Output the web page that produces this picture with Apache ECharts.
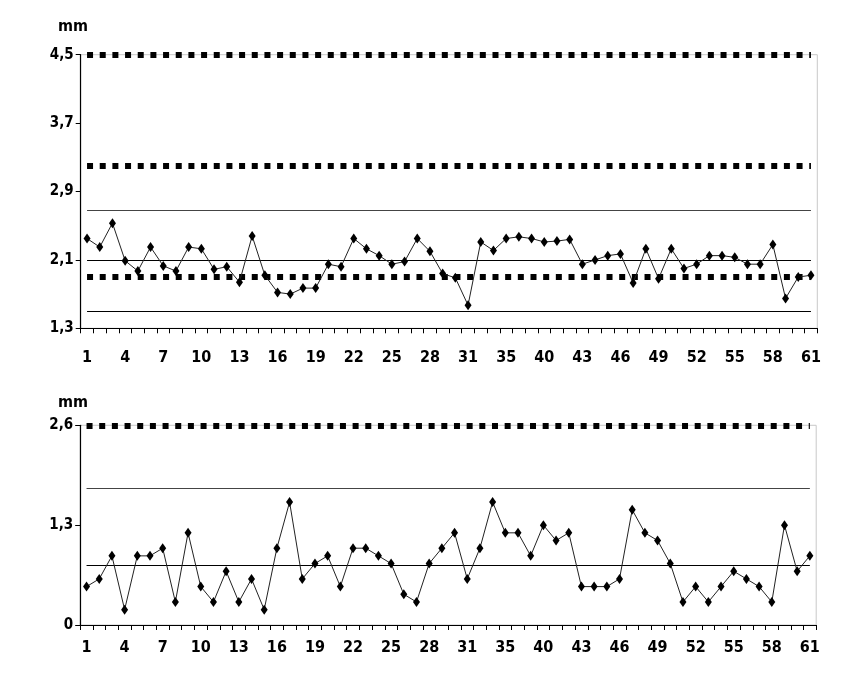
<!DOCTYPE html>
<html>
<head>
<meta charset="utf-8">
<script src="https://cdn.jsdelivr.net/npm/echarts@6/dist/echarts.min.js"></script>
<style>html,body{margin:0;padding:0;background:#fff}#c{width:855px;height:679px}</style>
</head>
<body>
<div id="c"></div>
<script>
const categories = ['1','2','3','4','5','6','7','8','9','10','11','12','13','14','15','16','17','18','19','20','21','22','23','24','25','26','27','28','29','30','31','32','33','35','36','37','40','41','42','43','44','45','46','47','48','49','50','51','52','53','54','55','56','57','58','59','60','61'];
const topValues = [2.35,2.25,2.53,2.09,1.97,2.25,2.03,1.97,2.25,2.23,
  1.99,2.02,1.84,2.38,1.92,1.72,1.70,1.77,1.77,2.05,
  2.02,2.35,2.23,2.15,2.05,2.08,2.35,2.20,1.94,1.89,
  1.57,2.31,2.21,2.35,2.37,2.35,2.31,2.32,2.34,2.05,
  2.10,2.15,2.17,1.83,2.23,1.88,2.23,2.00,2.05,2.15,
  2.15,2.13,2.05,2.05,2.28,1.65,1.90,1.92];
const bottomValues = [0.5,0.6,0.9,0.2,0.9,0.9,1.0,0.3,1.2,0.5,
  0.3,0.7,0.3,0.6,0.2,1.0,1.6,0.6,0.8,0.9,
  0.5,1.0,1.0,0.9,0.8,0.4,0.3,0.8,1.0,1.2,
  0.6,1.0,1.6,1.2,1.2,0.9,1.3,1.1,1.2,0.5,
  0.5,0.5,0.6,1.5,1.2,1.1,0.8,0.3,0.5,0.3,
  0.5,0.7,0.6,0.5,0.3,1.3,0.7,0.9];
const topDashedLimits = [4.5, 3.2, 1.9];
const topSolidLimits = [2.68, 2.1, 1.5];
const bottomDashedLimits = [2.6];
const bottomSolidLimits = [1.78, 0.78];
const topAxis = {min: 1.3, max: 4.5, interval: 0.8};
const bottomAxis = {min: 0, max: 2.6, interval: 1.3};
const unitLabel = 'mm';

const FONT = "'Liberation Sans Narrow','Arial Narrow','DejaVu Sans Condensed',sans-serif";
const first = categories[0], last = categories[categories.length - 1];

function limitLines(dashed, solid, solidColors) {
  const data = [];
  dashed.forEach(v => data.push([
    {coord: [first, v], lineStyle: {type: [6, 6.67], width: 6, color: '#000'}},
    {coord: [last, v]}
  ]));
  solid.forEach((v, i) => data.push([
    {coord: [first, v], lineStyle: {type: 'solid', width: 1.2, color: solidColors[i]}},
    {coord: [last, v]}
  ]));
  return {silent: true, symbol: ['none', 'none'], label: {show: false}, animation: false, data};
}

function fmt(v) { return (Math.round(v * 10) / 10).toString().replace('.', ','); }

const xAxisBase = {
  type: 'category', data: categories, boundaryGap: true,
  axisLine: {lineStyle: {color: '#000', width: 1.2}},
  axisTick: {show: true, interval: 0, length: 5, lineStyle: {color: '#000'}},
  axisLabel: {interval: 2, color: '#000', fontFamily: FONT, fontWeight: 'bold', fontSize: 16},
  splitLine: {show: false}
};
const yAxisBase = {
  type: 'value',
  axisLine: {show: true, lineStyle: {color: '#000', width: 1.2}},
  axisTick: {show: true, length: 5, lineStyle: {color: '#000'}},
  axisLabel: {color: '#000', fontFamily: FONT, fontWeight: 'bold', fontSize: 15, margin: 7, formatter: fmt},
  splitLine: {show: false}
};

const seriesStyle = {
  type: 'line', symbol: 'diamond', symbolSize: [7, 10], showAllSymbol: true,
  itemStyle: {color: '#000'}, lineStyle: {color: '#222', width: 1},
  animation: false, z: 5
};

const chart = echarts.init(document.getElementById('c'), null, {renderer: 'canvas'});
chart.setOption({
  backgroundColor: '#fff',
  title: [
    {text: unitLabel, left: 53, top: 14, textStyle: {fontFamily: FONT, fontWeight: 'bold', fontSize: 16, color: '#000'}},
    {text: unitLabel, left: 53, top: 390, textStyle: {fontFamily: FONT, fontWeight: 'bold', fontSize: 16, color: '#000'}}
  ],
  grid: [
    {left: 80.7, top: 54.7, width: 736.6, height: 273.6, show: true, borderColor: '#c8c8c8', borderWidth: 1, backgroundColor: 'transparent'},
    {left: 80.2, top: 425.3, width: 736, height: 199.7, show: true, borderColor: '#c8c8c8', borderWidth: 1, backgroundColor: 'transparent'}
  ],
  xAxis: [
    Object.assign({}, xAxisBase, {gridIndex: 0, axisLabel: Object.assign({}, xAxisBase.axisLabel, {margin: 22})}),
    Object.assign({}, xAxisBase, {gridIndex: 1, axisLabel: Object.assign({}, xAxisBase.axisLabel, {margin: 15})})
  ],
  yAxis: [
    Object.assign({}, yAxisBase, {gridIndex: 0}, topAxis),
    Object.assign({}, yAxisBase, {gridIndex: 1}, bottomAxis)
  ],
  series: [
    Object.assign({}, seriesStyle, {xAxisIndex: 0, yAxisIndex: 0, data: topValues,
      markLine: limitLines(topDashedLimits, topSolidLimits, ['#444', '#000', '#000'])}),
    Object.assign({}, seriesStyle, {xAxisIndex: 1, yAxisIndex: 1, data: bottomValues,
      markLine: limitLines(bottomDashedLimits, bottomSolidLimits, ['#444', '#000'])})
  ]
});
</script>
</body>
</html>
